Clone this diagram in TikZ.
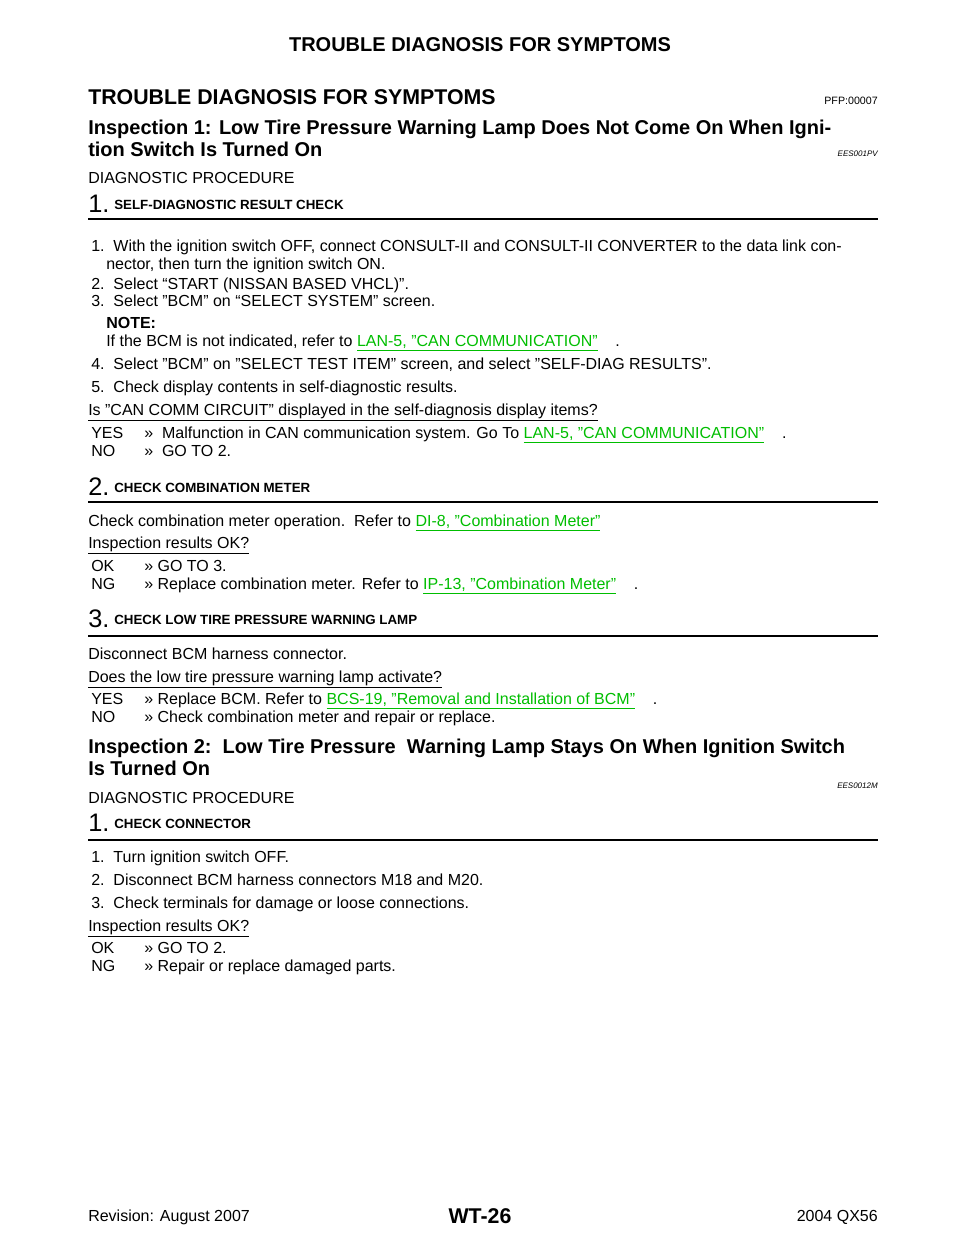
\documentclass[tikz,border=0pt]{standalone}
\usepackage{fontspec}
\setmainfont{Liberation Sans}
\definecolor{lnk}{RGB}{0,190,0}
\newcommand{\LK}[1]{\textcolor{lnk}{\underline{#1}}}
\newcommand{\TT}[3]{\node[anchor=base west,inner sep=0] at (#1,#2) {#3};}
\begin{document}
\begin{tikzpicture}[x=0.75pt,y=-0.75pt,
  body/.style={font=\fontsize{12}{14}\selectfont},
  rulel/.style={line width=0.8pt}]
\useasboundingbox (0,0) rectangle (960,1242);
\fill[white] (0,0) rectangle (960,1242);
\node[anchor=base,inner sep=0,font=\fontsize{15}{18}\selectfont\bfseries] (hdr) at (480,51) {TROUBLE DIAGNOSIS FOR SYMPTOMS};
\node[anchor=base west,inner sep=0,font=\fontsize{16}{18}\selectfont\bfseries] (t1) at (88,104) {TROUBLE DIAGNOSIS FOR SYMPTOMS};
\node[anchor=base east,inner sep=0,font=\fontsize{8}{10}\selectfont] (pfp) at (878,104) {PFP:00007};
\begin{scope}[every node/.style={anchor=base west,inner sep=0,font=\fontsize{15}{18}\selectfont\bfseries}]
\node at (88,134) {Inspection 1: Low Tire Pressure Warning Lamp Does Not Come On When Igni-};
\node at (88,156) {tion Switch Is Turned On};
\node at (88,753) {Inspection 2:\ \ Low Tire Pressure\ \ Warning Lamp Stays On When Ignition Switch};
\node at (88,775) {Is Turned On};
\end{scope}
\node[anchor=base east,inner sep=0,font=\fontsize{6}{7}\selectfont\itshape] at (878,156) {EES001PV};
\node[anchor=base east,inner sep=0,font=\fontsize{6}{7}\selectfont\itshape] at (878,788) {EES0012M};
\begin{scope}[every node/.style={anchor=base west,inner sep=0,font=\fontsize{12}{14}\selectfont}]
\node at (88,183) {DIAGNOSTIC PROCEDURE};
\node at (88,803) {DIAGNOSTIC PROCEDURE};
% step headings
\node[font=\fontsize{19}{20}\selectfont] at (88,212) {1.};
\node[font=\fontsize{19}{20}\selectfont] at (88,495) {2.};
\node[font=\fontsize{19}{20}\selectfont] at (88,627) {3.};
\node[font=\fontsize{19}{20}\selectfont] at (88,831) {1.};
\node[font=\fontsize{10}{12}\selectfont\bfseries] at (114,209) {SELF-DIAGNOSTIC RESULT CHECK};
\node[font=\fontsize{10}{12}\selectfont\bfseries] at (114,492) {CHECK COMBINATION METER};
\node[font=\fontsize{10}{12}\selectfont\bfseries] at (114,624) {CHECK LOW TIRE PRESSURE WARNING LAMP};
\node[font=\fontsize{10}{12}\selectfont\bfseries] at (114,828) {CHECK CONNECTOR};
% step 1
\node at (91,251) {1.\ \ With the ignition switch OFF, connect CONSULT-II and CONSULT-II CONVERTER to the data link con-};
\node at (106,269) {nector, then turn the ignition switch ON.};
\node at (91,289) {2.\ \ Select “START (NISSAN BASED VHCL)”.};
\node at (91,306) {3.\ \ Select "BCM" on “SELECT SYSTEM” screen.};
\node[font=\fontsize{12}{14}\selectfont\bfseries] at (106,328) {NOTE:};
\node at (106,346) {If the BCM is not indicated, refer to \LK{LAN-5, "CAN COMMUNICATION"}\ \ \ \ .};
\node at (91,369) {4.\ \ Select "BCM" on "SELECT TEST ITEM" screen, and select "SELF-DIAG RESULTS".};
\node at (91,392) {5.\ \ Check display contents in self-diagnostic results.};
\node at (88,415) {\underline{Is "CAN COMM CIRCUIT" displayed in the self-diagnosis display items?}};
\node at (91,438) {YES};
\node at (144,438) {>>\ \ Malfunction in CAN communication system. Go To \LK{LAN-5, "CAN COMMUNICATION"}\ \ \ \ .};
\node at (91,456) {NO};
\node at (144,456) {>>\ \ GO TO 2.};
% step 2
\node at (88,526) {Check combination meter operation.\ \ Refer to \LK{DI-8, "Combination Meter"}};
\node at (88,548) {\underline{Inspection results OK?}};
\node at (91,571) {OK};
\node at (144,571) {>> GO TO 3.};
\node at (91,589) {NG};
\node at (144,589) {>> Replace combination meter. Refer to \LK{IP-13, "Combination Meter"}\ \ \ \ .};
% step 3
\node at (88,659) {Disconnect BCM harness connector.};
\node at (88,682) {\underline{Does the low tire pressure warning lamp activate?}};
\node at (91,704) {YES};
\node at (144,704) {>> Replace BCM. Refer to \LK{BCS-19, "Removal and Installation of BCM"}\ \ \ \ .};
\node at (91,722) {NO};
\node at (144,722) {>> Check combination meter and repair or replace.};
% insp 2 step 1
\node at (91,862) {1.\ \ Turn ignition switch OFF.};
\node at (91,885) {2.\ \ Disconnect BCM harness connectors M18 and M20.};
\node at (91,908) {3.\ \ Check terminals for damage or loose connections.};
\node at (88,931) {\underline{Inspection results OK?}};
\node at (91,953) {OK};
\node at (144,953) {>> GO TO 2.};
\node at (91,971) {NG};
\node at (144,971) {>> Repair or replace damaged parts.};
% footer
\node at (88,1221) {Revision: August 2007};
\node[anchor=base east] at (878,1221) {2004 QX56};
\end{scope}
\node[anchor=base,inner sep=0,font=\fontsize{16}{18}\selectfont\bfseries] at (480,1223) {WT-26};
\draw[rulel] (88,219) -- (878,219);
\draw[rulel] (88,502) -- (878,502);
\draw[rulel] (88,636) -- (878,636);
\draw[rulel] (88,840) -- (878,840);
\end{tikzpicture}
\end{document}
